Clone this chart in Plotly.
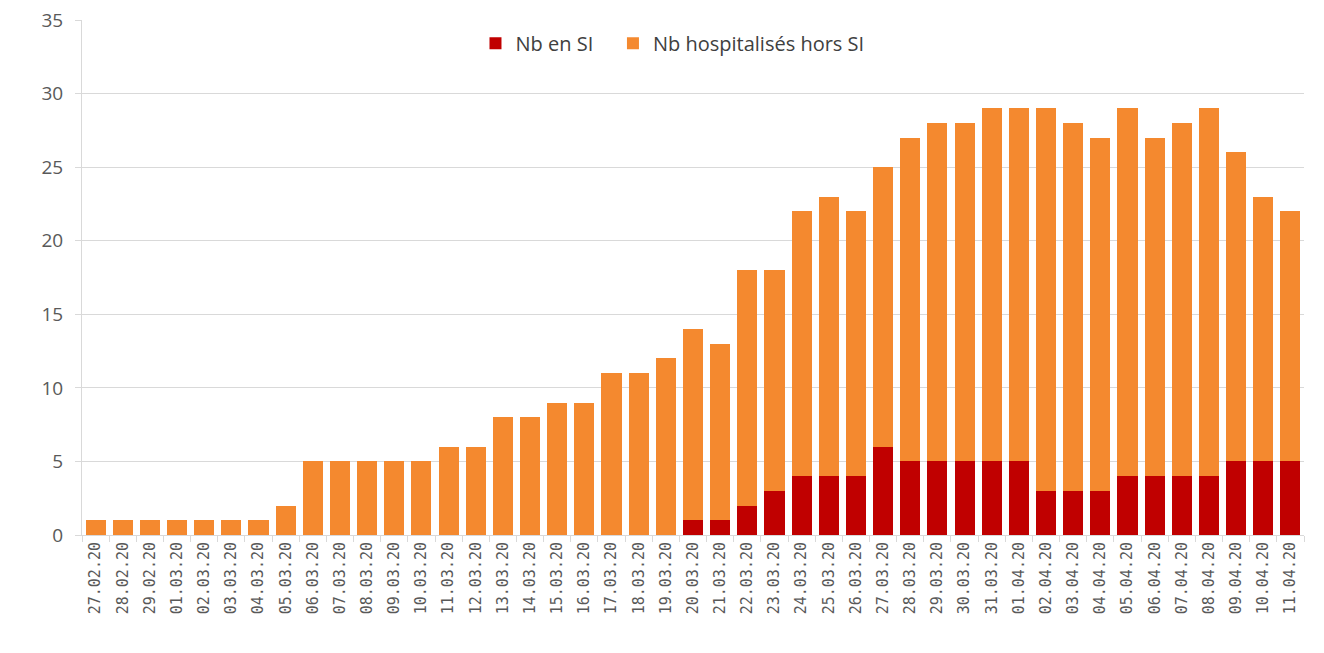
import plotly.graph_objects as go

dates = ["27.02.20", "28.02.20", "29.02.20", "01.03.20", "02.03.20", "03.03.20", "04.03.20",
         "05.03.20", "06.03.20", "07.03.20", "08.03.20", "09.03.20", "10.03.20", "11.03.20",
         "12.03.20", "13.03.20", "14.03.20", "15.03.20", "16.03.20", "17.03.20", "18.03.20",
         "19.03.20", "20.03.20", "21.03.20", "22.03.20", "23.03.20", "24.03.20", "25.03.20",
         "26.03.20", "27.03.20", "28.03.20", "29.03.20", "30.03.20", "31.03.20", "01.04.20",
         "02.04.20", "03.04.20", "04.04.20", "05.04.20", "06.04.20", "07.04.20", "08.04.20",
         "09.04.20", "10.04.20", "11.04.20"]

nb_si = [0, 0, 0, 0, 0, 0, 0,
         0, 0, 0, 0, 0, 0, 0,
         0, 0, 0, 0, 0, 0, 0,
         0, 1, 1, 2, 3, 4, 4,
         4, 6, 5, 5, 5, 5, 5,
         3, 3, 3, 4, 4, 4, 4,
         5, 5, 5]

nb_hors_si = [1, 1, 1, 1, 1, 1, 1,
              2, 5, 5, 5, 5, 5, 6,
              6, 8, 8, 9, 9, 11, 11,
              12, 13, 12, 16, 15, 18, 19,
              18, 19, 22, 23, 23, 24, 24,
              26, 25, 24, 25, 23, 24, 25,
              21, 18, 17]

fig = go.Figure()
fig.add_trace(go.Bar(x=dates, y=nb_si, name="Nb en SI", legend="legend",
                     marker=dict(color="#C00000", line=dict(width=0))))
fig.add_trace(go.Bar(x=dates, y=nb_hors_si, name="Nb hospitalisés hors SI", legend="legend2",
                     marker=dict(color="#F4892F", line=dict(width=0))))

leg_common = dict(orientation="h", y=0.955, xanchor="left", yanchor="middle",
                  font=dict(size=20, color="#404040"), itemwidth=30, bgcolor="rgba(0,0,0,0)")

fig.update_layout(
    barmode="stack",
    bargap=0.26,
    width=1316, height=645,
    margin=dict(l=74, r=20, t=12, b=118, autoexpand=False),
    paper_bgcolor="white", plot_bgcolor="white",
    font=dict(family="Open Sans", color="#595959"),
    legend=dict(x=0.322, **leg_common),
    legend2=dict(x=0.4345, **leg_common),
    showlegend=True,
)
fig.update_yaxes(range=[0, 35], dtick=5, showgrid=True, gridcolor="#d9d9d9", gridwidth=1,
                 zeroline=False, showline=True, linecolor="#d9d9d9", linewidth=1,
                 ticks="outside", ticklen=6, tickcolor="#d9d9d9",
                 ticklabelstandoff=8, automargin=False, ticklabeloverflow="allow",
                 tickfont=dict(size=19, color="#595959"))
fig.update_xaxes(type="category", tickangle=-90, showline=True, linecolor="#d9d9d9", linewidth=1,
                 ticks="outside", tickson="boundaries", ticklen=6, tickcolor="#d9d9d9",
                 automargin=False, ticklabeloverflow="allow",
                 tickfont=dict(size=15, family="DejaVu Sans Mono", color="#595959"),
                 showgrid=False)

fig.write_html("out.html")
